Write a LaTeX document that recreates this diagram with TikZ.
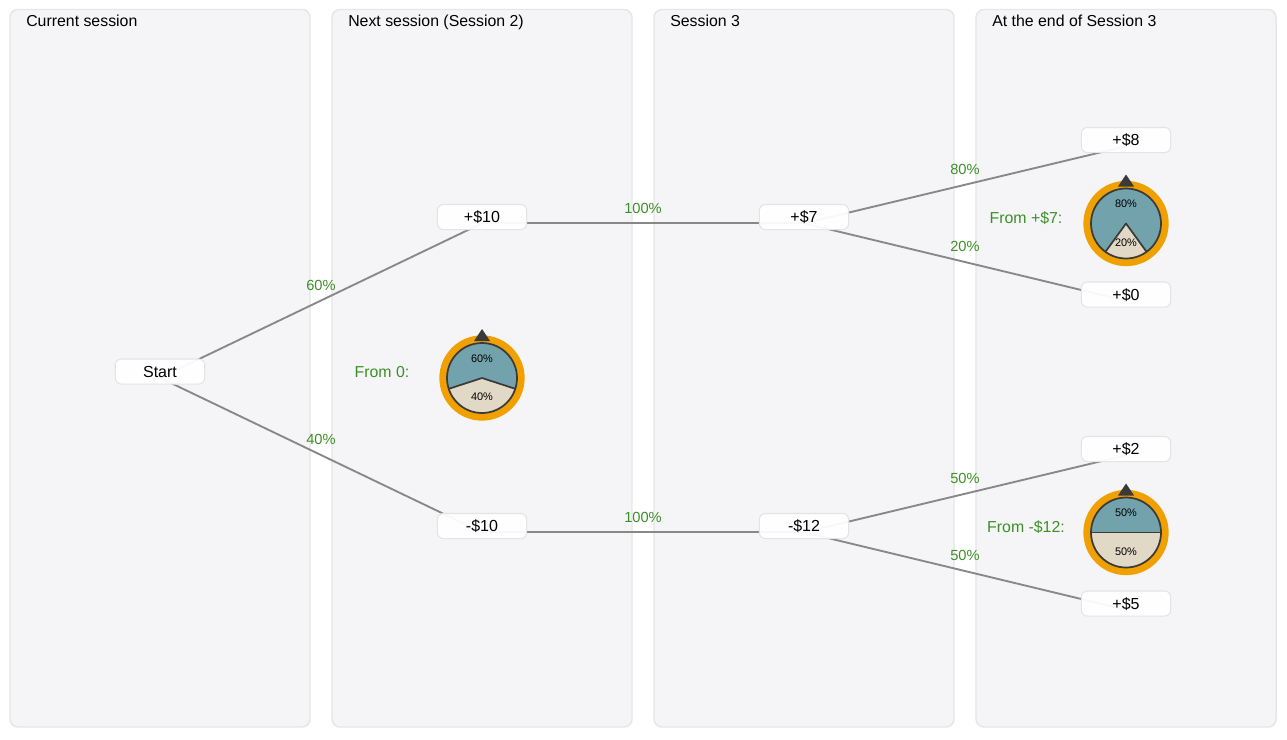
\documentclass[tikz,border=0pt]{standalone}
\usepackage{fontspec}
\setmainfont{Liberation Sans}
\usetikzlibrary{calc,backgrounds}
\definecolor{panelfill}{HTML}{F5F5F8}
\definecolor{panelline}{HTML}{E6E6E8}
\definecolor{nodeline}{HTML}{E4E4E6}
\definecolor{linkgray}{HTML}{888888}
\definecolor{probgreen}{HTML}{3C8F28}
\definecolor{ringorange}{HTML}{F0A000}
\definecolor{dialteal}{HTML}{72A3AD}
\definecolor{dialbeige}{HTML}{E2D8C6}
\definecolor{dialdark}{HTML}{3A3A3A}
\pgfdeclarelayer{panels}
\pgfsetlayers{panels,background,main}
\newcommand{\pxfont}[1]{\fontsize{#1}{#1}\selectfont}
\tikzset{
  x=0.75pt,y=-0.75pt,
  panelbox/.style={draw=panelline,line width=1.1pt,fill=panelfill,rounded corners=6pt},
  paneltitle/.style={anchor=base west,inner sep=0pt,font=\pxfont{11.9},text=black},
  choice/.style={draw=nodeline,line width=0.8pt,fill=white,fill opacity=0.95,text opacity=1,rounded corners=4.5pt,minimum width=67pt,minimum height=18.8pt,inner sep=0pt,font=\pxfont{12},text=black,text height=8.6pt,text depth=0pt},
  link/.style={draw=linkgray,line width=1.4pt},
  prob/.style={inner sep=0pt,font=\pxfont{11},text=probgreen},
  fromlabel/.style={inner sep=0pt,font=\pxfont{11.9},text=probgreen},
  dialtext/.style={inner sep=0pt,font=\pxfont{8.2},text=black},
}
% \dial{cx}{cy}{half-angle of the lower slice, from straight down}
\newcommand{\dial}[3]{%
  \fill[ringorange] (#1,#2) circle[radius=32pt];
  \fill[dialteal] (#1,#2) circle[radius=26.25pt];
  \fill[dialbeige] (#1,#2) -- ++({-90-#3}:26.25pt) arc[start angle={-90-#3},end angle={-90+#3},radius=26.25pt] -- cycle;
  \draw[dialdark,line width=1.3pt,line join=round] ($(#1,#2)+({-90-#3}:26.25pt)$) -- (#1,#2) -- ($(#1,#2)+({-90+#3}:26.25pt)$);
  \draw[dialdark,line width=1.3pt] (#1,#2) circle[radius=26.25pt];
  \fill[dialdark] (#1,#2-49) -- (#1+8,#2-37) -- (#1-8,#2-37) -- cycle;
}
\begin{document}
\begin{tikzpicture}
\useasboundingbox (0,0) rectangle (1287,739);
\begin{pgfonlayer}{panels}
\fill[white] (0,0) rectangle (1287,739);
\foreach \px in {10,332,654,976}{
  \draw[panelbox] (\px,9.5) rectangle (\px+300,727);
}
\end{pgfonlayer}
\node[paneltitle] (t1) at (26,26) {Current session};
\node[paneltitle] (t2) at (348,26) {Next session (Session 2)};
\node[paneltitle] (t3) at (670,26) {Session 3};
\node[paneltitle] (t4) at (992,26) {At the end of Session 3};

\node[choice] (start) at (160,371.5) {Start};
\node[choice] (p10) at (482,217) {+\$10};
\node[choice] (m10) at (482,526) {-\$10};
\node[choice] (p7) at (804,217) {+\$7};
\node[choice] (m12) at (804,526) {-\$12};
\node[choice] (p8) at (1126,140) {+\$8};
\node[choice] (p0) at (1126,294.5) {+\$0};
\node[choice] (p2) at (1126,449) {+\$2};
\node[choice] (p5) at (1126,603.5) {+\$5};

\begin{scope}[on background layer]
\foreach \a/\b in {start/p10,start/m10,p10/p7,m10/m12,p7/p8,p7/p0,m12/p2,m12/p5}{
  \draw[link] ([yshift=-4.7pt]\a.center) -- ([yshift=-4.7pt]\b.center);
}
\end{scope}

\node[prob] (l1) at (321,285) {60\%};
\node[prob] (l2) at (321,439) {40\%};
\node[prob] (l3) at (643,208) {100\%};
\node[prob] (l4) at (643,517) {100\%};
\node[prob] (l5) at (965,169) {80\%};
\node[prob] (l6) at (965,246) {20\%};
\node[prob] (l7) at (965,478) {50\%};
\node[prob] (l8) at (965,555) {50\%};
\node[fromlabel] (f1) at (382,372.5) {From 0:};
\node[fromlabel] (f2) at (1026,218.5) {From +\$7:};
\node[fromlabel] (f3) at (1026,527.5) {From -\$12:};

\dial{482}{378}{72}
\dial{1126}{223.5}{36}
\dial{1126}{532.5}{90}
\node[dialtext] (d1) at (482,358.5) {60\%};
\node[dialtext] (d2) at (482,396.5) {40\%};
\node[dialtext] (d3) at (1126,203.5) {80\%};
\node[dialtext] (d4) at (1126,242.5) {20\%};
\node[dialtext] (d5) at (1126,512.5) {50\%};
\node[dialtext] (d6) at (1126,551.5) {50\%};
\end{tikzpicture}
\end{document}
